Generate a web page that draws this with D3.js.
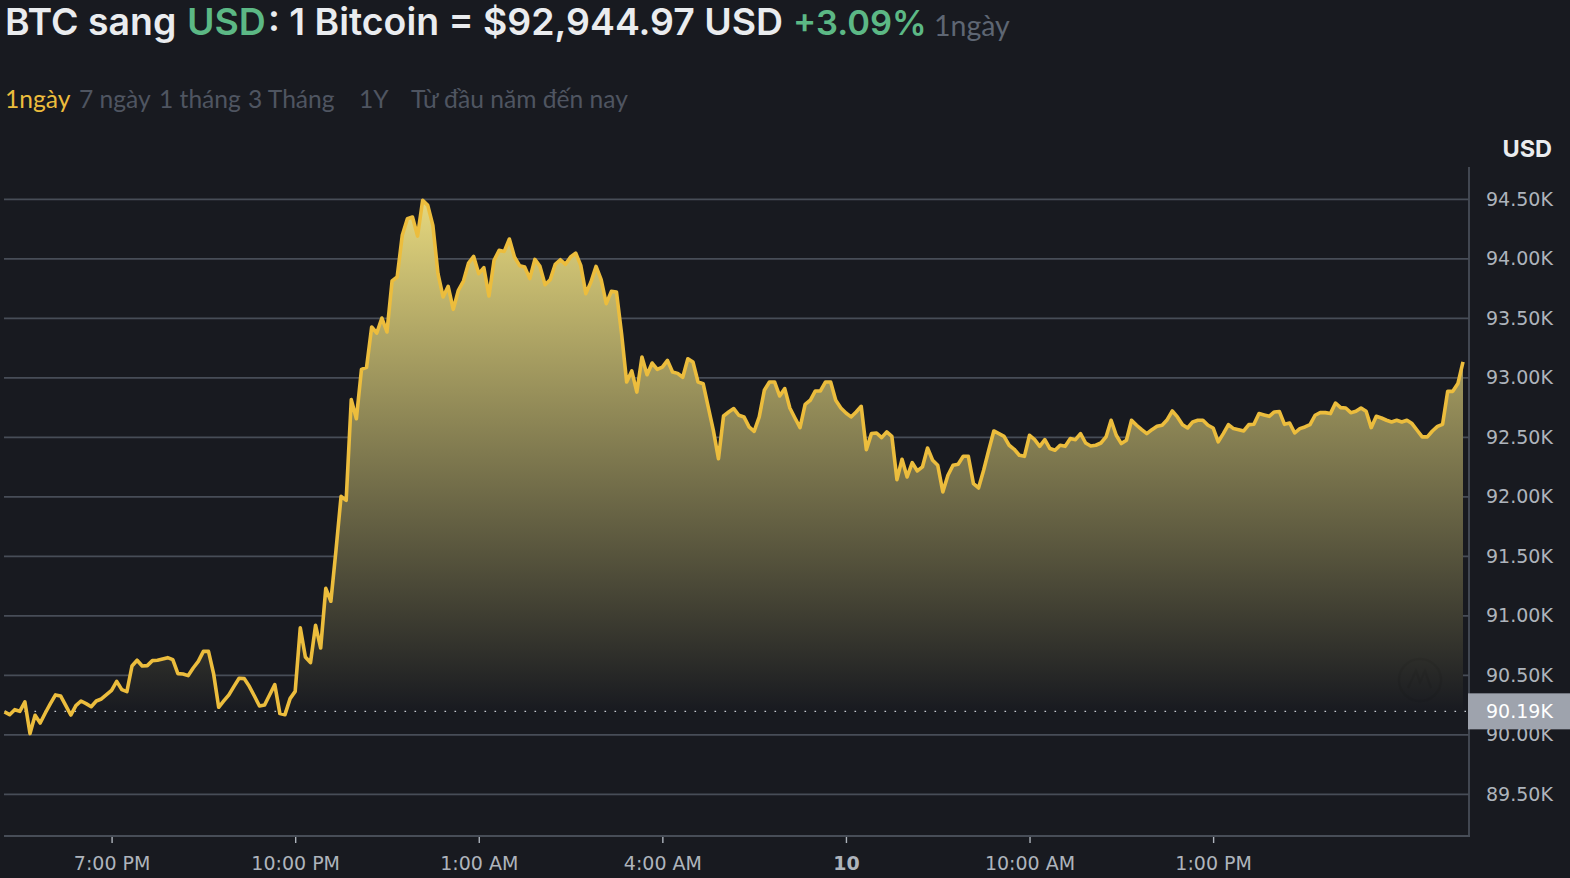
<!DOCTYPE html>
<html><head><meta charset="utf-8">
<script src="https://cdn.jsdelivr.net/npm/d3@7/dist/d3.min.js"></script>
<style>
html,body{margin:0;padding:0;background:#181a20;overflow:hidden}
svg{display:block}
.axis-y text{font-family:"DejaVu Sans",sans-serif;font-size:19px;fill:#aeb4bc}
.axis-x text{font-family:"DejaVu Sans",sans-serif;font-size:19px;fill:#aeb4bc}
.hd{font-family:Lato,sans-serif}
.hi{font-family:Inter,sans-serif}
</style></head><body>
<svg id="c" width="1570" height="878"></svg>
<script>
const prices = [
90188,90165,90207,90193,90272,90006,90160,90095,90179,90258,
90331,90322,90244,90162,90241,90280,90258,90232,90280,90297,
90333,90370,90445,90375,90359,90574,90622,90574,90577,90619,
90622,90633,90644,90627,90510,90507,90493,90557,90613,90697,
90697,90510,90227,90280,90331,90403,90471,90468,90403,90322,
90238,90246,90333,90417,90174,90165,90300,90361,90894,90650,
90602,90916,90725,91227,91118,91546,92000,91966,92812,92652,
93067,93084,93423,93372,93498,93381,93809,93843,94193,94333,
94347,94187,94487,94445,94277,93871,93675,93764,93571,93731,
93809,93960,94016,93871,93921,93683,93983,94067,94058,94162,
94011,93938,93927,93829,93991,93932,93778,93820,93949,93988,
93949,94011,94044,93941,93703,93801,93932,93820,93619,93722,
93717,93367,92960,93053,92876,93170,93022,93120,93067,93086,
93142,93044,93033,93000,93156,93128,92960,92946,92750,92554,
92316,92675,92708,92737,92681,92667,92583,92546,92667,92891,
92961,92961,92843,92905,92742,92658,92577,92773,92807,92885,
92885,92961,92961,92807,92742,92700,92667,92709,92756,92392,
92527,92532,92493,92541,92504,92140,92311,92163,92283,92213,
92247,92406,92303,92261,92037,92177,92261,92269,92336,92336,
92107,92070,92219,92387,92549,92527,92504,92429,92395,92345,
92336,92513,92476,92420,92476,92401,92387,92429,92420,92485,
92476,92527,92448,92423,92429,92448,92499,92639,92513,92443,
92471,92639,92597,92560,92527,92560,92588,92597,92644,92717,
92667,92602,92574,92625,92639,92639,92597,92574,92457,92527,
92602,92569,92560,92549,92602,92605,92695,92684,92672,92709,
92712,92605,92616,92532,92569,92583,92602,92681,92703,92703,
92695,92784,92745,92742,92703,92714,92742,92714,92577,92672,
92658,92639,92625,92639,92625,92639,92611,92555,92499,92499,
92549,92588,92605,92882,92882,92947,93129];
const basePrice = 90193;
const sampleMinutes = 5;
const startTime = new Date(2024, 10, 9, 17, 15);
const yTicks = [89500,90000,90500,91000,91500,92000,92500,93000,93500,94000,94500];
const xTickHours = [19,22,25,28,31,34,37];
const xTickLabels = ["7:00 PM","10:00 PM","1:00 AM","4:00 AM","10","10:00 AM","1:00 PM"];
const rangeTabs = ["1ngày","7 ngày","1 tháng","3 Tháng","1Y","Từ đầu năm đến nay"];

const C = {bg:"#181a20",grid:"#474d57",gold:"#ecbd3d",muted:"#4f5561",muted2:"#5e6673",white:"#eaecef",green:"#5cb885"};
const svg = d3.select("#c");
const times = prices.map((_, i) => new Date(+startTime + i * sampleMinutes * 60000));
const x = d3.scaleTime().domain([times[0], times[times.length-1]]).range([4.5,1463]);
const y = d3.scaleLinear().domain([89500,94500]).range([793.8,198.8]);
const pts = prices.map((p,i)=>({t:times[i],p}));

const grad = svg.append("defs").append("linearGradient").attr("id","g")
  .attr("gradientUnits","userSpaceOnUse").attr("x1",0).attr("x2",0).attr("y1",y(94500)).attr("y2",y(basePrice));
grad.append("stop").attr("offset",0).attr("stop-color","#e6d87e");
grad.append("stop").attr("offset",1).attr("stop-color",C.bg);

const yAxis = d3.axisRight(y).tickValues(yTicks).tickSize(-1465).tickPadding(0)
  .tickFormat(d=>(d/1000).toFixed(2)+"K");
const gy = svg.append("g").attr("class","axis-y").attr("transform","translate(1469,0)").call(yAxis);
gy.select(".domain").remove();
gy.selectAll("line").attr("stroke",C.grid).attr("stroke-width",1.7);
gy.selectAll("text").attr("x",17).attr("dy","0.35em").attr("text-anchor","start");

svg.append("line").attr("x1",1469).attr("x2",1469).attr("y1",167).attr("y2",836.5).attr("stroke",C.grid).attr("stroke-width",1.8);

svg.append("path").datum(pts).attr("fill","url(#g)")
  .attr("d",d3.area().x(d=>x(d.t)).y0(y(basePrice)).y1(d=>y(d.p)));

const wm = svg.append("g").attr("transform","translate(1420,680)").attr("fill","none").attr("stroke","#000").attr("stroke-opacity",0.06).attr("stroke-width",2.5);
wm.append("circle").attr("r",21);
wm.append("path").attr("d","M-12 8 L-4 -9 L0 2 L5 -9 L11 8");

svg.append("line").attr("x1",4.5).attr("x2",1466).attr("y1",y(basePrice)).attr("y2",y(basePrice))
  .attr("stroke","#c8ccd2").attr("stroke-width",1.2).attr("stroke-dasharray","1.6 8.4");

svg.append("path").datum(pts).attr("fill","none").attr("stroke",C.gold).attr("stroke-width",3.6).attr("stroke-linejoin","round")
  .attr("d",d3.line().x(d=>x(d.t)).y(d=>y(d.p)));

const xTickTimes = xTickHours.map(h=>new Date(2024,10,9,h));
const xAxis = d3.axisBottom(x).tickValues(xTickTimes).tickSize(7).tickPadding(0)
  .tickFormat((d,i)=>xTickLabels[i]);
const gx = svg.append("g").attr("class","axis-x").attr("transform","translate(0,836)").call(xAxis);
gx.select(".domain").remove();
gx.selectAll("line").attr("stroke","#aeb4bc").attr("stroke-width",1.4).attr("y1",1);
gx.selectAll("text").attr("y",34).attr("dy",0)
  .attr("font-weight",(d,i)=>xTickLabels[i]==="10"?"700":"400");
svg.append("line").attr("x1",4).attr("x2",1470).attr("y1",836).attr("y2",836).attr("stroke",C.grid).attr("stroke-width",1.8);

svg.append("text").text("USD").attr("x",1552).attr("y",157).attr("text-anchor","end")
  .attr("class","hi").attr("font-size",23.5).attr("font-weight",700).attr("fill",C.white);
svg.append("rect").attr("x",1468).attr("y",y(basePrice)-18).attr("width",102).attr("height",36).attr("fill","#9ea3ad");
svg.append("text").text((basePrice/1000).toFixed(2)+"K").attr("x",1486).attr("y",y(basePrice)).attr("dy","0.36em")
  .attr("font-family","DejaVu Sans").attr("font-size",19).attr("fill","#fff");

const head = [
 ["BTC sang",5,C.white,37.4,600,"hi",35],["USD",187,C.green,37.4,600,"hi",35],[": 1 Bitcoin = $92,944.97 USD",268,C.white,37.4,600,"hi",35],
 ["+3.09%",793,C.green,34.5,600,"hi",35],["1ngày",934,C.muted2,28.5,400,"hd",36]];
head.forEach(h=>svg.append("text").text(h[0]).attr("class",h[5]).style("white-space","pre")
  .attr("x",h[1]).attr("y",h[6]).attr("fill",h[2]).attr("font-size",h[3]).attr("font-weight",h[4]));
const tabX = [5,79,159,248,359,411];
rangeTabs.forEach((t,i)=>svg.append("text").text(t).attr("class","hd").attr("x",tabX[i]).attr("y",108)
  .attr("font-size",24.6).attr("fill",i===0?C.gold:C.muted));
</script></body></html>
